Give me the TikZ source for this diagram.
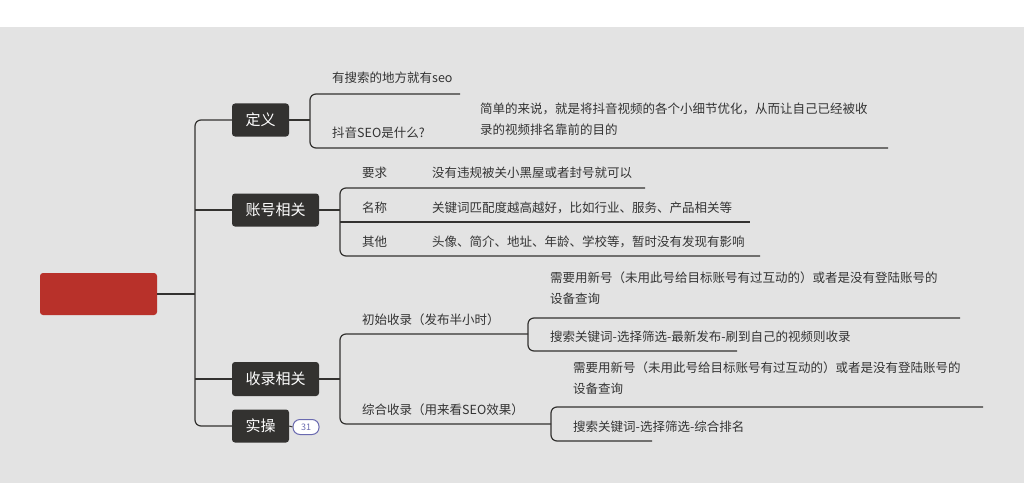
\documentclass[tikz,border=0pt]{standalone}
\usepackage{fontspec}
\setmainfont{Noto Sans CJK SC}
\definecolor{bg}{HTML}{E3E3E3}
\definecolor{dark}{HTML}{333230}
\definecolor{rootred}{HTML}{B8312A}
\definecolor{txt}{HTML}{333333}
\definecolor{badge}{HTML}{6A6AB0}
\begin{document}
\begin{tikzpicture}[x=1pt,y=-1pt,
  topic/.style={fill=dark,text=white,rounded corners=3pt,inner sep=0pt,font=\fontsize{15}{18}\selectfont},
  lbl/.style={anchor=west,text=txt,inner sep=0pt,font=\fontsize{12.5}{21}\selectfont,align=left},
  ln/.style={draw=dark,line width=1.2pt,rounded corners=6pt}]
\useasboundingbox (0,0) rectangle (1024,500);
\fill[bg] (0,27) rectangle (1024,483);
% root
\node[fill=rootred,rounded corners=3pt,minimum width=117,minimum height=42,inner sep=0pt] (root) at (98.5,294) {};
% topics
\node[topic,minimum width=57,minimum height=33] (def) at (260.5,120) {定义};
\node[topic,minimum width=87,minimum height=33] (acc) at (275.5,210) {账号相关};
\node[topic,minimum width=87,minimum height=34] (inc) at (275.5,379) {收录相关};
\node[topic,minimum width=57,minimum height=33] (prac) at (260.5,426) {实操};
\node[draw=badge,fill=white,rounded corners=7pt,line width=1pt,minimum width=26,minimum height=15,inner sep=0pt,text=badge,font=\fontsize{9}{10}\selectfont] (b31) at (306,427) {31};
\coordinate (sp) at (195,294);
\draw[ln] (root.east) -- (sp);
\draw[ln] (def.west) -- (195,120) -- (195,426) -- (prac.west);
\draw[ln] (acc.west) -- (195,210);
\draw[ln] (inc.west) -- (195,379);
\draw[draw=dark,line width=1pt] (prac.east) -- (b31.west);
% 定义
\node[lbl] (d1) at (332,78) {有搜索的地方就有seo};
\node[lbl] (d2) at (332,133) {抖音SEO是什么?};
\node[lbl,anchor=north west] (d2t) at (480,103) {简单的来说，就是将抖音视频的各个小细节优化，从而让自己已经被收\\录的视频排名靠前的目的};
\draw[ln] (def.east) -- (310,120);
\draw[ln] (460,94) -- (310,94) -- (310,148) -- (888,148);
% 账号相关
\draw[ln] (acc.east) -- (340,210);
\draw[ln] (645,188) -- (340,188) -- (340,256) -- (760,256);
\draw[ln] (340,222) -- (750,222);
\node[lbl] (a1) at (362,173) {要求};
\node[lbl] (a1t) at (432,173) {没有违规被关小黑屋或者封号就可以};
\node[lbl] (a2) at (362,208) {名称};
\node[lbl] (a2t) at (432,208) {关键词匹配度越高越好，比如行业、服务、产品相关等};
\node[lbl] (a3) at (362,242) {其他};
\node[lbl] (a3t) at (432,242) {头像、简介、地址、年龄、学校等，暂时没有发现有影响};
% 收录相关
\draw[ln] (inc.east) -- (340,379);
\draw[ln] (528,334) -- (340,334) -- (340,424) -- (551,424);
\node[lbl] (c1) at (362,320) {初始收录（发布半小时）};
\draw[ln] (960,318) -- (528,318) -- (528,351) -- (737,351);
\node[lbl,anchor=north west] (c1a) at (550,272) {需要用新号（未用此号给目标账号有过互动的）或者是没有登陆账号的\\设备查询};
\node[lbl] (c1b) at (550,337) {搜索关键词-选择筛选-最新发布-刷到自己的视频则收录};
\node[lbl] (c2) at (362,410) {综合收录（用来看SEO效果）};
\draw[ln] (983,407) -- (551,407) -- (551,441) -- (652,441);
\node[lbl,anchor=north west] (c2a) at (573,362) {需要用新号（未用此号给目标账号有过互动的）或者是没有登陆账号的\\设备查询};
\node[lbl] (c2b) at (573,427) {搜索关键词-选择筛选-综合排名};
\end{tikzpicture}
\end{document}
